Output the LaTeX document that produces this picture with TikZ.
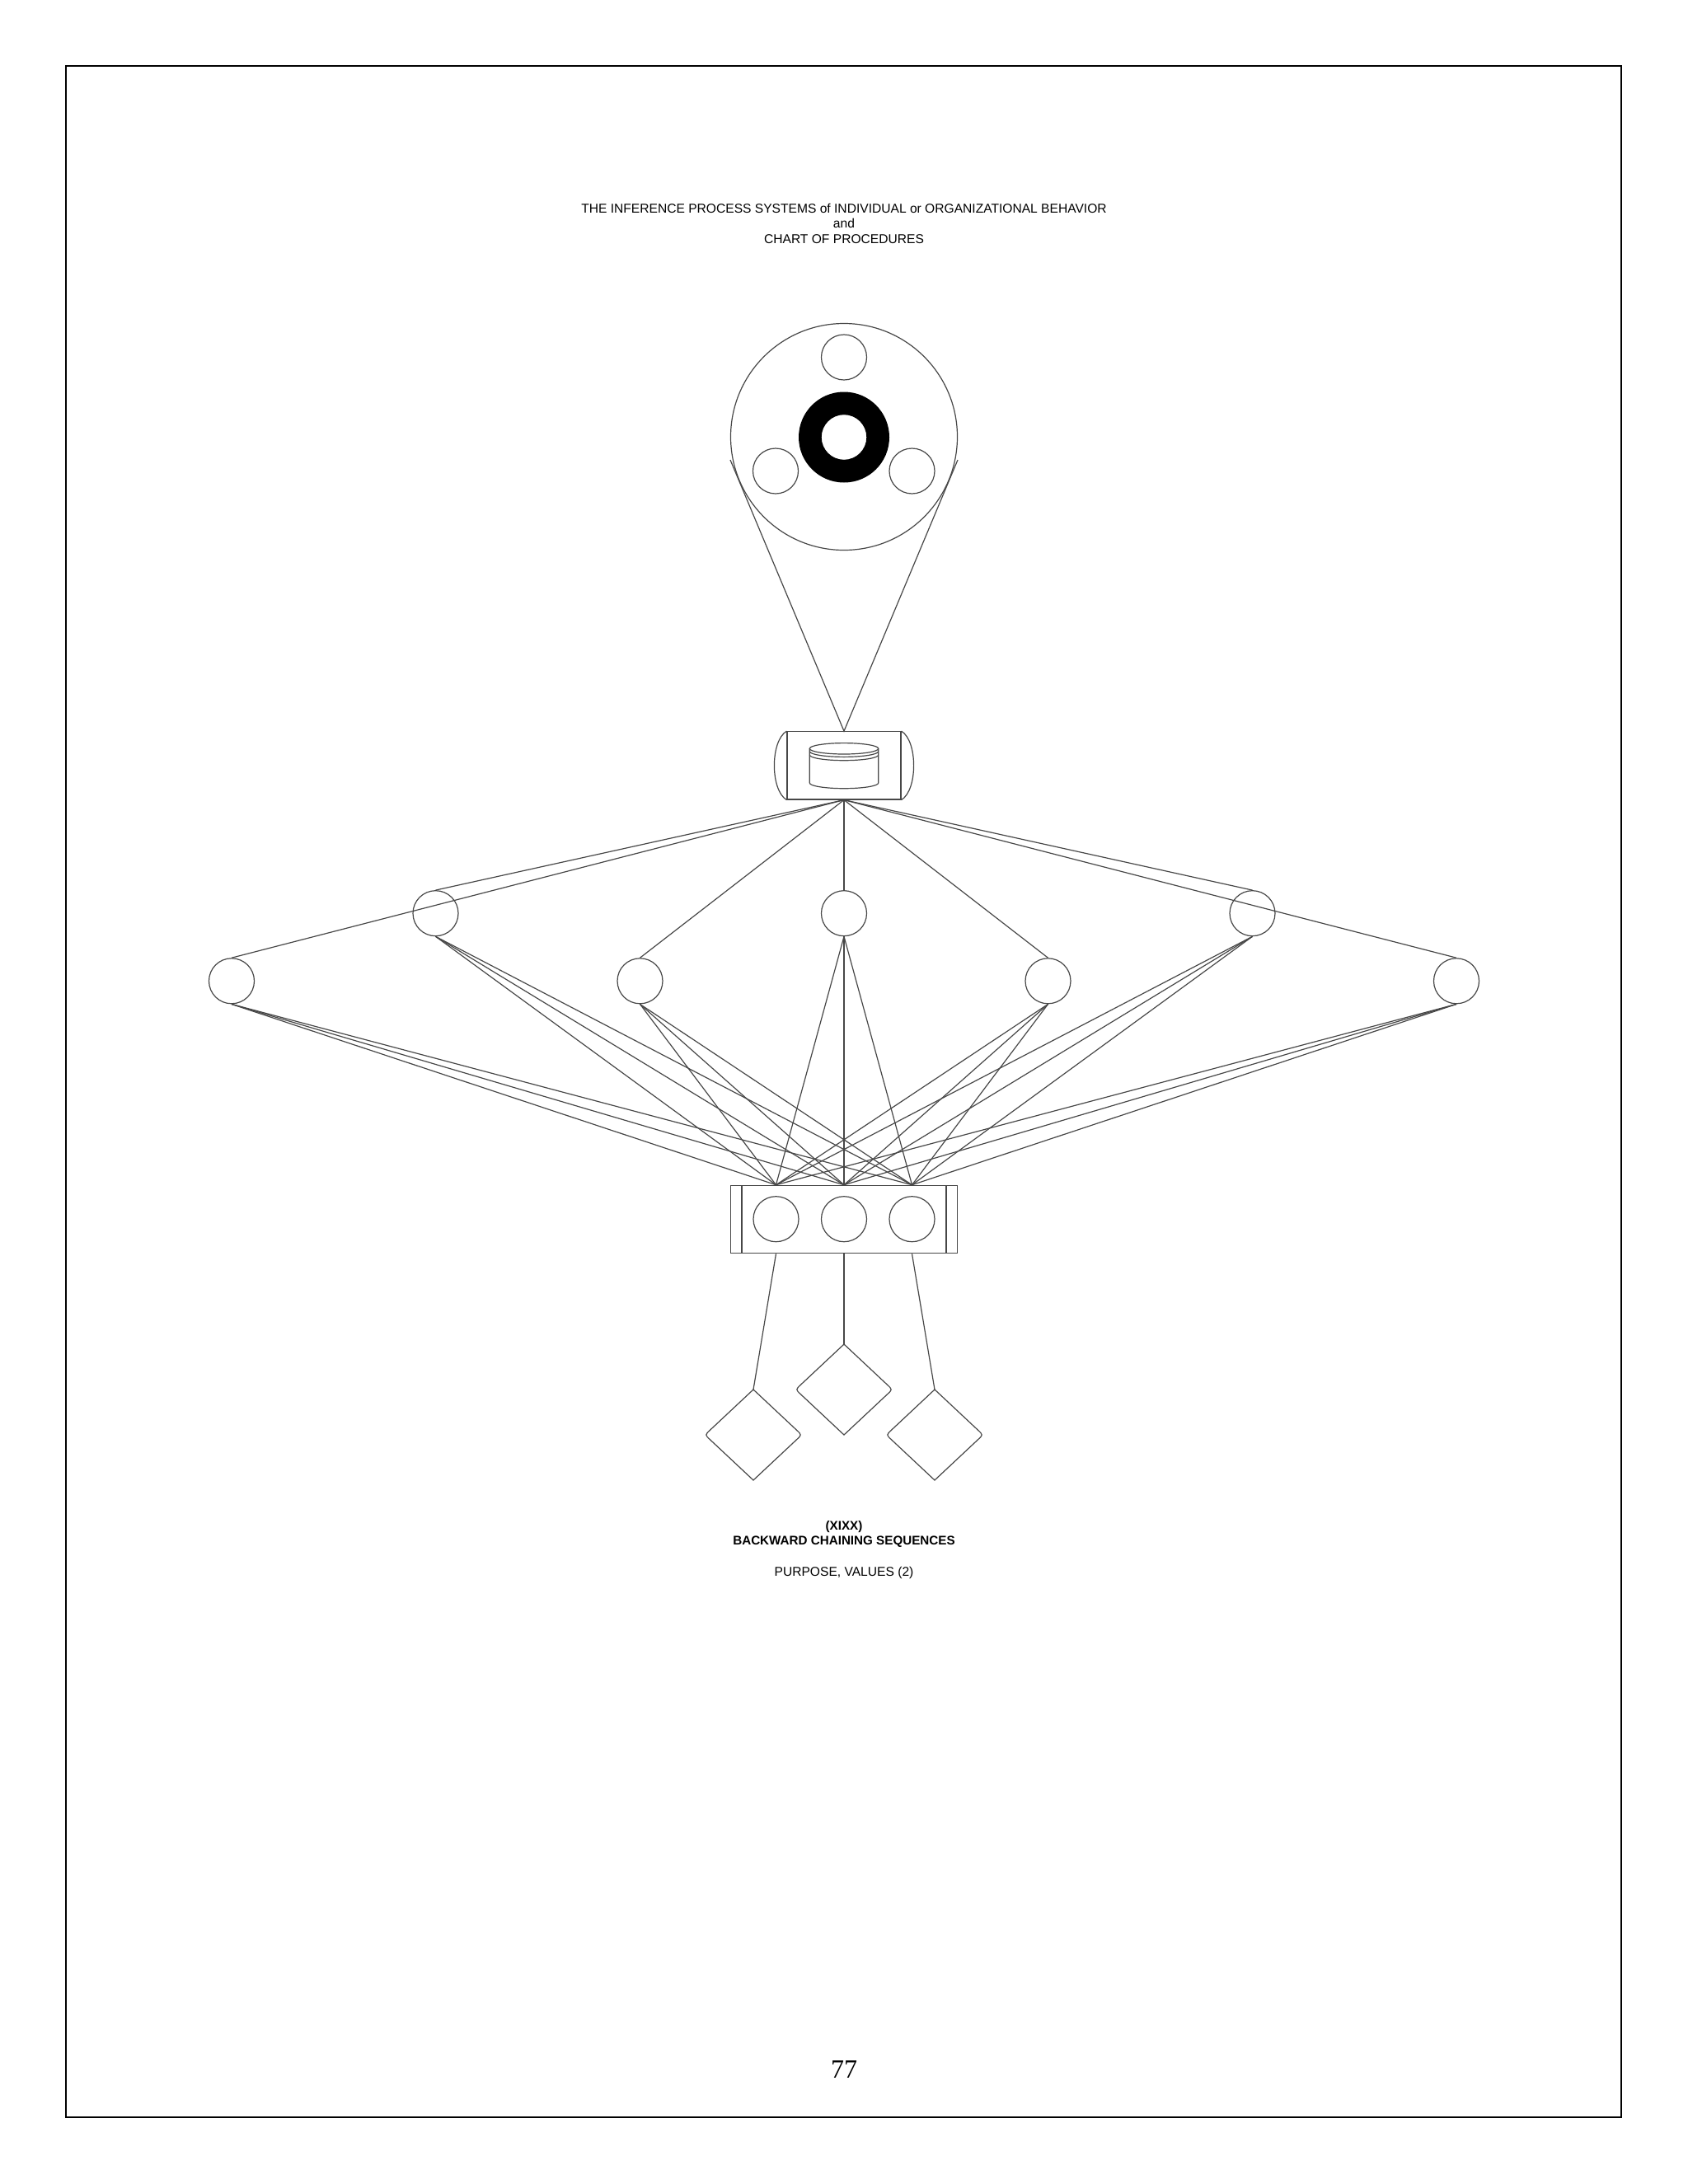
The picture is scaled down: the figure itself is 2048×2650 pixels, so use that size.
\documentclass[tikz,border=0pt]{standalone}
\usepackage{fontspec}
\setmainfont{Liberation Sans}
\newfontfamily\serifnum{Liberation Serif}
\begin{document}
\begin{tikzpicture}[x=0.5pt,y=-0.5pt,
  ln/.style={draw=black!72, line width=0.6pt},
  circ/.style={circle, draw=black!72, line width=0.6pt, minimum size=27.5pt, inner sep=0pt},
  txt/.style={anchor=base, inner sep=0pt, font=\fontsize{7.8}{9.2}\selectfont},
  btxt/.style={anchor=base, inner sep=0pt, font=\fontsize{7.6}{9}\selectfont\bfseries}]
\useasboundingbox (0,0) rectangle (2048,2650);
\draw[line width=1pt] (80,80) rectangle (1967,2569);

% title
\node[txt] (t1) at (1024,258.3) {THE INFERENCE PROCESS SYSTEMS of INDIVIDUAL or ORGANIZATIONAL BEHAVIOR};
\node[txt] (t2) at (1024,276.7) {and};
\node[txt] (t3) at (1024,295) {CHART OF PROCEDURES};

% top circle group
\node[circ, minimum size=137.5pt] (big) at (1024,530) {};
\node[circ] (s1) at (1024,433.5) {};
\node[circ] (s2) at (941,571.5) {};
\node[circ] (s3) at (1106.5,571.5) {};
\fill[black, even odd rule] (1024,530.5) circle[radius=55] circle[radius=27.3];
\coordinate (tl) at (886,558);
\coordinate (tr) at (1162,558);

% cylinder node
\node[ln, draw, minimum width=69pt, minimum height=41.15pt, inner sep=0pt] (cyl) at (1024,928.85) {};
\draw[ln] (cyl.north west) .. controls +(-20,12) and +(-20,-12) .. (cyl.south west);
\draw[ln] (cyl.north east) .. controls +(20,12) and +(20,-12) .. (cyl.south east);
\draw[ln] (1024,908.3) ellipse[x radius=41.7, y radius=6.7];
\draw[ln] (982.3,911.7) arc[start angle=180, end angle=0, x radius=41.7, y radius=6.7];
\draw[ln] (982.3,916) arc[start angle=180, end angle=0, x radius=41.7, y radius=6.7];
\draw[ln] (982.3,908.3) -- (982.3,950) arc[start angle=180, end angle=0, x radius=41.7, y radius=6.7] -- (1065.7,908.3);
\draw[ln] (tl) -- (cyl.north) -- (tr);

% middle circles
\node[circ] (a1) at (528.5,1108.2) {};
\node[circ] (a2) at (1024,1108.2) {};
\node[circ] (a3) at (1519.5,1108.2) {};
\node[circ] (b1) at (281,1190.3) {};
\node[circ] (b2) at (776.5,1190.3) {};
\node[circ] (b3) at (1271.5,1190.3) {};
\node[circ] (b4) at (1767,1190.3) {};

% bottom box
\node[ln, draw, minimum width=137.85pt, minimum height=41.2pt, inner sep=0pt] (box) at (1024,1479.5) {};
\draw[ln] (900,1438.3) -- (900,1520.7);
\draw[ln] (1148,1438.3) -- (1148,1520.7);
\node[circ] (c1) at (941.5,1479.2) {};
\node[circ] (c2) at (1024,1479.2) {};
\node[circ] (c3) at (1106.5,1479.2) {};

% connectors
\foreach \n in {a1,a2,a3,b1,b2,b3,b4}{
  \draw[ln] (cyl.south) -- (\n.north);
  \foreach \c in {c1,c2,c3}{\draw[ln] (\n.south) -- (\c |- box.north);}
}

% diamonds
\coordinate (d1) at (914,1686);
\coordinate (d2) at (1024,1631);
\coordinate (d3) at (1134,1686);
\foreach \x/\y in {914/1741,1024/1686,1134/1741}{
  \draw[ln] (\x,\y-55) -- (\x-52.6,\y-5.7) .. controls (\x-58.7,\y) .. (\x-52.6,\y+5.7)
    -- (\x,\y+55) -- (\x+52.6,\y+5.7) .. controls (\x+58.7,\y) .. (\x+52.6,\y-5.7) -- cycle;
}
\draw[ln] (c1 |- box.south) -- (d1);
\draw[ln] (c2 |- box.south) -- (d2);
\draw[ln] (c3 |- box.south) -- (d3);

% captions
\node[btxt] (x1) at (1024,1856) {(XIXX)};
\node[btxt] (x2) at (1024,1874.3) {BACKWARD CHAINING SEQUENCES};
\node[txt] (x3) at (1024,1912.7) {PURPOSE, VALUES (2)};
\node[anchor=base, inner sep=0pt, font=\serifnum\fontsize{16}{19}\selectfont] (pg) at (1024,2521.7) {77};
\end{tikzpicture}
\end{document}
